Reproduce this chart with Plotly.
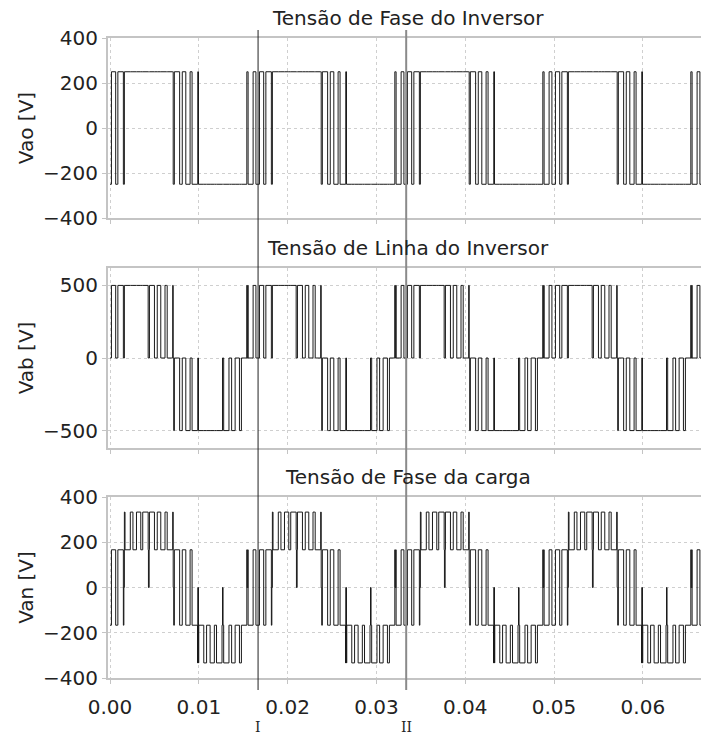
import numpy as np
import plotly.graph_objects as go

# ---------------- data ----------------
T = 1 / 60                       # fundamental period [s]
n_cycles = 4
pulses_per_cycle = 21            # switching periods per fundamental cycle
vao_level = 250                  # half DC-link voltage [V]
# fraction of each switching period that Vao spends at +250 V (one fundamental cycle)
vao_duty = [0.60, 0.78, 0.93, 1.0, 1.0, 1.0, 1.0, 1.0, 0.92, 0.75, 0.50,
            0.28, 0.10, 0.0, 0.0, 0.0, 0.0, 0.0, 0.0, 0.18, 0.40]
phase_shifts = [0, T / 3, 2 * T / 3]   # phases a, b, c

panel_titles = ["Tensão de Fase do Inversor", "Tensão de Linha do Inversor",
                "Tensão de Fase da carga"]
y_labels = ["Vao [V]", "Vab [V]", "Van [V]"]
y_ranges = [[-400, 400], [-620, 620], [-400, 400]]
y_ticks = [[-400, -200, 0, 200, 400], [-500, 0, 500], [-400, -200, 0, 200, 400]]
x_ticks = [0.00, 0.01, 0.02, 0.03, 0.04, 0.05, 0.06]
x_range = [-0.00023, 0.06655]
cursor_t = [0.01667, 0.03335]
cursor_labels = ["I", "II"]

# ---------------- build waveforms from the switching data ----------------
Tc = T / pulses_per_cycle
duty = np.array(vao_duty)
t_end = n_cycles * T

# switching instants of phase a within one cycle
sw = []
for k, d in enumerate(duty):
    if 0 < d < 1:
        c = (k + 0.5) * Tc
        sw += [c - d * Tc / 2, c + d * Tc / 2]
sw = np.array(sw)


def phase_edges(shift):
    return np.concatenate([sw + shift + k * T for k in range(-1, n_cycles + 1)])


def phase_value(t, shift):
    tm = np.mod(t - shift, T)
    k = np.minimum((tm // Tc).astype(int), pulses_per_cycle - 1)
    c = (k + 0.5) * Tc
    high = np.abs(tm - c) < duty[k] * Tc / 2
    return np.where(high, vao_level, -vao_level).astype(float)


edges = np.concatenate([phase_edges(s) for s in phase_shifts] + [np.array([0.0, t_end])])
edges = np.unique(np.round(edges[(edges >= 0) & (edges <= t_end)], 9))
mid = np.append((edges[:-1] + edges[1:]) / 2, t_end)
va = phase_value(mid, phase_shifts[0])
vb = phase_value(mid, phase_shifts[1])
vc = phase_value(mid, phase_shifts[2])
vab = va - vb
van = (2 * va - vb - vc) / 3
series = [va, vab, van]

# ---------------- figure ----------------
W, H = 701, 735
px_top = [38, 268, 497]
px_bot = [218, 448, 678]
x_left = 108

fig = go.Figure()
font_fam = "DejaVu Sans"
for i in range(3):
    xa = "x" if i == 0 else f"x{i+1}"
    ya = "y" if i == 0 else f"y{i+1}"
    fig.add_trace(go.Scatter(x=edges, y=series[i], mode="lines", line_shape="hv",
                             line=dict(color="#1a1a1a", width=1), xaxis=xa, yaxis=ya,
                             showlegend=False, hoverinfo="skip"))
    xkey = "xaxis" if i == 0 else f"xaxis{i+1}"
    ykey = "yaxis" if i == 0 else f"yaxis{i+1}"
    fig.layout[xkey] = dict(
        domain=[x_left / W, 1.0], range=x_range, anchor=ya, automargin=False,
        tickvals=x_ticks, tickformat=".2f", showticklabels=(i == 2),
        showgrid=True, gridcolor="#cfcfcf", griddash="dot", gridwidth=1,
        zeroline=False, showline=True, mirror=True, linecolor="#c4c4c4", linewidth=2,
        ticks="outside", ticklen=4, tickcolor="#c4c4c4", ticklabelstandoff=6,
        tickfont=dict(family=font_fam, size=20, color="#222"),
        matches=None if i == 0 else "x",
    )
    fig.layout[ykey] = dict(
        domain=[(H - px_bot[i]) / H, (H - px_top[i]) / H], range=y_ranges[i], anchor=xa,
        automargin=False,
        tickvals=y_ticks[i], showgrid=True, gridcolor="#cfcfcf", griddash="dot", gridwidth=1,
        zeroline=False, showline=True, mirror=True, linecolor="#c4c4c4", linewidth=2,
        ticks="outside", ticklen=4, tickcolor="#c4c4c4",
        tickfont=dict(family=font_fam, size=20, color="#222"),
        title=dict(text=y_labels[i], font=dict(family=font_fam, size=20, color="#222"), standoff=4),
    )
    fig.add_annotation(text=panel_titles[i], xref="paper", yref="paper",
                       x=408 / W, y=(H - (px_top[i] - 20)) / H, xanchor="center", yanchor="middle",
                       showarrow=False, font=dict(family=font_fam, size=20, color="#222"))

# cursor lines
cursor_colors = ["#222222", "#8a8a8a"]
cursor_widths = [1, 2]
for k, tc in enumerate(cursor_t):
    fig.add_shape(type="line", xref="x3", yref="paper", x0=tc, x1=tc,
                  y0=(H - 690) / H, y1=(H - 30) / H,
                  line=dict(color=cursor_colors[k], width=cursor_widths[k]))
    fig.add_annotation(text=cursor_labels[k], xref="x3", yref="paper", x=tc,
                       y=(H - 727) / H, showarrow=False, xanchor="center", yanchor="middle",
                       font=dict(family="DejaVu Serif", size=14, color="#222"))

fig.update_layout(width=W, height=H, margin=dict(l=0, r=0, t=0, b=0),
                  paper_bgcolor="white", plot_bgcolor="white", showlegend=False)

fig.write_html("out.html")
